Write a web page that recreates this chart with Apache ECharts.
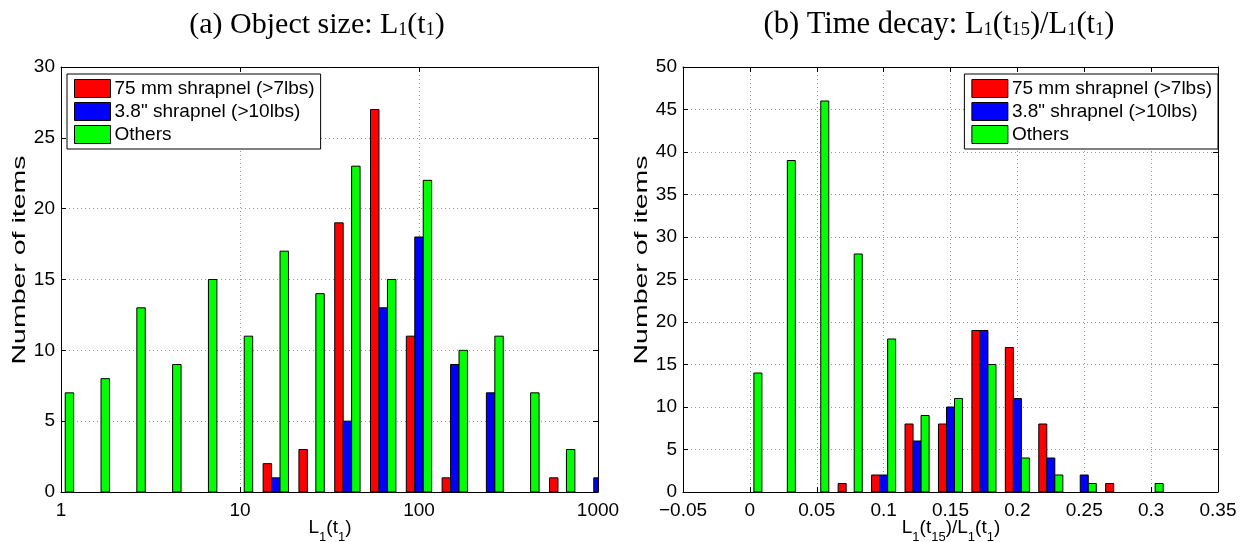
<!DOCTYPE html>
<html>
<head>
<meta charset="utf-8">
<script src="https://cdn.jsdelivr.net/npm/echarts@6/dist/echarts.min.js"></script>
<style>
html,body{margin:0;padding:0;background:#fff;}
#chart{width:1247px;height:542px;}
</style>
</head>
<body>
<div id="chart"></div>
<script>
// ---- data ----
const seriesNames = ['75 mm shrapnel (>7lbs)', '3.8" shrapnel (>10lbs)', 'Others'];
const seriesColors = ['#ff0000', '#0000ff', '#00ff00'];

// (a) Object size: bin centres (log spaced) and counts
const sizeBins = [1, 1.585, 2.512, 3.981, 6.31, 10, 15.85, 25.12, 39.81, 63.1, 100, 158.5, 251.2, 398.1, 631, 1000];
const sizeRed   = [0, 0, 0, 0, 0, 0, 2, 3, 19, 27, 11, 1, 0, 0, 1, 0];
const sizeBlue  = [0, 0, 0, 0, 0, 0, 1, 0, 5, 13, 18, 9, 7, 0, 0, 1];
const sizeGreen = [7, 8, 13, 9, 15, 11, 17, 14, 23, 15, 22, 10, 11, 7, 3, 0];

// (b) Time decay: bin centres and counts
const decayBins = [0, 0.025, 0.05, 0.075, 0.1, 0.125, 0.15, 0.175, 0.2, 0.225, 0.25, 0.275, 0.3];
const decayRed   = [0, 0, 0, 1, 2, 8, 8, 19, 17, 8, 0, 1, 0];
const decayBlue  = [0, 0, 0, 0, 2, 6, 10, 19, 11, 4, 2, 0, 0];
const decayGreen = [14, 39, 46, 28, 18, 9, 11, 15, 4, 2, 1, 0, 1];

const sizeYTicks = {min: 0, max: 30, interval: 5};
const decayYTicks = {min: 0, max: 50, interval: 5};
const decayXTicks = {min: -0.05, max: 0.35, interval: 0.05};

// ---- chart ----
const chart = echarts.init(document.getElementById('chart'), null, {renderer: 'canvas'});
const SANS = 'Liberation Sans';
const SERIF = 'Liberation Serif';
const FS = 19;

function renderer(bins, idx, ratio) {
  return function (params, api) {
    const x = api.value(0), y = api.value(1);
    if (!y) return null;
    const top = api.coord([x, y]);
    const base = api.coord([x, 0]);
    const step = api.coord([bins[1], 0])[0] - api.coord([bins[0], 0])[0];
    const w = step * ratio;
    const cx = top[0] + (idx - 1) * w;
    const rect = echarts.graphic.clipRectByRect(
      {x: cx - w / 2, y: top[1], width: w, height: base[1] - top[1]},
      params.coordSys
    );
    if (!rect) return null;
    return {
      type: 'rect',
      shape: rect,
      style: {fill: seriesColors[idx], stroke: '#000', lineWidth: 1}
    };
  };
}

function makeSeries(bins, arrays, gridIdx, ratio) {
  return arrays.map((vals, i) => ({
    type: 'custom',
    name: seriesNames[i],
    xAxisIndex: gridIdx * 2,
    yAxisIndex: gridIdx * 2,
    itemStyle: {color: seriesColors[i]},
    renderItem: renderer(bins, i, ratio),
    encode: {x: 0, y: 1},
    data: bins.map((b, k) => [b, vals[k]])
  }));
}

const gridLine = {show: true, lineStyle: {color: '#999', type: [1, 3], width: 1}};
const axisLine = {show: true, onZero: false, lineStyle: {color: '#000', width: 1}};
const tickIn = {show: true, inside: true, length: 5, lineStyle: {color: '#000'}};
const lbl = {color: '#000', fontFamily: SANS, fontSize: FS};

const subRich = {
  m: {fontFamily: SANS, fontSize: FS, fill: '#000'},
  s: {fontFamily: SANS, fontSize: 13, fill: '#000', padding: [18, 0, 0, 0]}
};

function yName(x, y) {
  return {
    type: 'text', x: x, y: y, rotation: Math.PI / 2, scaleX: 1.5,
    style: {
      text: 'Number of items', align: 'center', verticalAlign: 'middle',
      font: FS + 'px "' + SANS + '"', fill: '#000'
    }
  };
}

function xName(x, y, text) {
  return {
    type: 'text', x: x, y: y,
    style: {text: text, align: 'center', verticalAlign: 'middle', rich: subRich}
  };
}

const option = {
  animation: false,
  backgroundColor: '#fff',
  graphic: [
    {
      type: 'text', x: 317, y: 8,
      style: {
        text: '{m|(a) Object size: L}{s|1}{m|(t}{s|1}{m|)}',
        align: 'center', verticalAlign: 'top',
        rich: {
          m: {fontFamily: SERIF, fontSize: 30, lineHeight: 34, fill: '#000'},
          s: {fontFamily: SERIF, fontSize: 18, lineHeight: 18, padding: [10, 0, 0, 0], fill: '#000'}
        }
      }
    },
    {
      type: 'text', x: 939, y: 8,
      style: {
        text: '{m|(b) Time decay: L}{s|1}{m|(t}{s|15}{m|)/L}{s|1}{m|(t}{s|1}{m|)}',
        align: 'center', verticalAlign: 'top',
        rich: {
          m: {fontFamily: SERIF, fontSize: 30.5, lineHeight: 34, fill: '#000'},
          s: {fontFamily: SERIF, fontSize: 18.5, lineHeight: 18, padding: [10, 0, 0, 0], fill: '#000'}
        }
      }
    },
    yName(20, 260),
    yName(642, 260),
    xName(330, 528, '{m|L}{s|1}{m|(t}{s|1}{m|)}'),
    xName(951, 528, '{m|L}{s|1}{m|(t}{s|15}{m|)/L}{s|1}{m|(t}{s|1}{m|)}')
  ],
  legend: [
    {
      left: 67, top: 74, orient: 'vertical',
      data: seriesNames, icon: 'rect',
      itemWidth: 36, itemHeight: 18, itemGap: 4,
      padding: [5, 6, 5, 7],
      borderColor: '#000', borderWidth: 1, backgroundColor: '#fff',
      itemStyle: {borderColor: '#000', borderWidth: 1},
      textStyle: {fontFamily: SANS, fontSize: FS, color: '#000', padding: [0, 0, 0, -1]},
      selectedMode: false
    },
    {
      right: 29, top: 74, orient: 'vertical',
      data: seriesNames, icon: 'rect',
      itemWidth: 36, itemHeight: 18, itemGap: 4,
      padding: [5, 6, 5, 7],
      borderColor: '#000', borderWidth: 1, backgroundColor: '#fff',
      itemStyle: {borderColor: '#000', borderWidth: 1},
      textStyle: {fontFamily: SANS, fontSize: FS, color: '#000', padding: [0, 0, 0, -1]},
      selectedMode: false
    }
  ],
  grid: [
    {left: 61, top: 67, width: 537, height: 425, containLabel: false, outerBoundsMode: 'none'},
    {left: 683, top: 67, width: 535, height: 425, containLabel: false, outerBoundsMode: 'none'}
  ],
  xAxis: [
    {
      type: 'log', logBase: 10, min: 1, max: 1000, gridIndex: 0,
      axisLine, axisTick: tickIn, splitLine: gridLine,
      axisLabel: Object.assign({margin: 9, formatter: v => String(Math.round(v))}, lbl)
    },
    {
      type: 'log', logBase: 10, min: 1, max: 1000, gridIndex: 0, position: 'top',
      axisLine, axisTick: tickIn, splitLine: {show: false}, axisLabel: {show: false}
    },
    {
      type: 'value', min: decayXTicks.min, max: decayXTicks.max, interval: decayXTicks.interval, gridIndex: 1,
      axisLine, axisTick: tickIn, splitLine: gridLine,
      axisLabel: Object.assign({margin: 9, formatter: v => {
        const r = Math.round(v * 1000) / 1000;
        return r < 0 ? '\u2212' + String(-r) : String(r);
      }}, lbl)
    },
    {
      type: 'value', min: decayXTicks.min, max: decayXTicks.max, interval: decayXTicks.interval, gridIndex: 1, position: 'top',
      axisLine, axisTick: tickIn, splitLine: {show: false}, axisLabel: {show: false}
    }
  ],
  yAxis: [
    {
      type: 'value', min: sizeYTicks.min, max: sizeYTicks.max, interval: sizeYTicks.interval, gridIndex: 0,
      axisLine, axisTick: tickIn, splitLine: gridLine,
      axisLabel: Object.assign({margin: 6}, lbl)
    },
    {
      type: 'value', min: sizeYTicks.min, max: sizeYTicks.max, interval: sizeYTicks.interval, gridIndex: 0, position: 'right',
      axisLine, axisTick: tickIn, splitLine: {show: false}, axisLabel: {show: false}
    },
    {
      type: 'value', min: decayYTicks.min, max: decayYTicks.max, interval: decayYTicks.interval, gridIndex: 1,
      axisLine, axisTick: tickIn, splitLine: gridLine,
      axisLabel: Object.assign({margin: 6}, lbl)
    },
    {
      type: 'value', min: decayYTicks.min, max: decayYTicks.max, interval: decayYTicks.interval, gridIndex: 1, position: 'right',
      axisLine, axisTick: tickIn, splitLine: {show: false}, axisLabel: {show: false}
    }
  ],
  series: [].concat(
    makeSeries(sizeBins, [sizeRed, sizeBlue, sizeGreen], 0, 0.236),
    makeSeries(decayBins, [decayRed, decayBlue, decayGreen], 1, 0.24)
  )
};
chart.setOption(option);
</script>
</body>
</html>
